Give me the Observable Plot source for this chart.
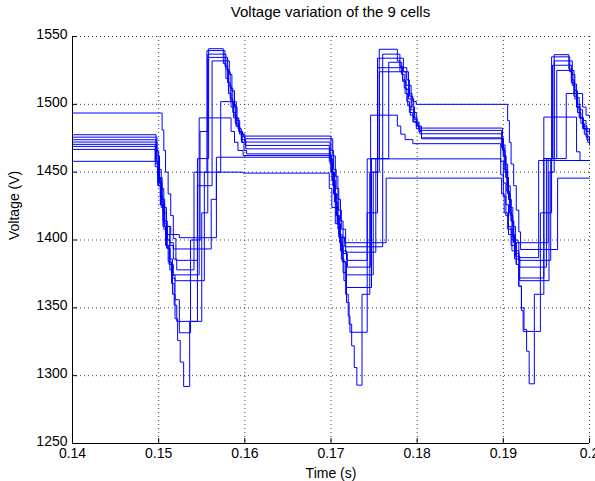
<!DOCTYPE html>
<html>
<head>
<meta charset="utf-8">
<script src="https://cdn.jsdelivr.net/npm/d3@7"></script>
<script src="https://cdn.jsdelivr.net/npm/@observablehq/plot@0.6"></script>
<style>
  html, body { margin: 0; padding: 0; background: #fff; }
  #title { height: 26px; box-sizing: border-box; padding: 4px 6px 0 72px; text-align: center;
           font: 15px "Liberation Sans", Arial, sans-serif; line-height: 16px; color: #000; }
  #chart svg { display: block; }
</style>
</head>
<body>
<div id="title">Voltage variation of the 9 cells</div>
<div id="chart"></div>
<script>
// ---- data: [time (s), voltage (V)] step points ----
const cell1 = [[0.14,1493.6],[0.1504,1481],[0.1506,1466],[0.1508,1450],[0.1511,1434],[0.1514,1418],[0.1517,1401],[0.1520,1385],
  [0.1545,1460],[0.1558,1541],[0.1575,1530],[0.1578,1519],[0.1581,1508],[0.1584,1498],[0.1587,1490],[0.1590,1484],[0.1594,1479],[0.1598,1476.6],
  [0.1700,1466],[0.1703,1452],[0.1706,1438],[0.1709,1422],[0.1712,1408],[0.1717,1391],
  [0.1752,1460],[0.1756,1540.6],[0.1777,1532],[0.1780,1524],[0.1783,1517],[0.1787,1511],[0.1791,1506],[0.1795,1502],[0.1799,1500],
  [0.1905,1488],[0.1907,1472],[0.1909,1456],[0.1912,1440],[0.1915,1422],[0.1918,1406],[0.1920,1393],
  [0.1963,1445.6],[0.2,1445.6]];
const cell2 = [[0.14,1477.6],[0.1497,1466],[0.1500,1452],[0.1503,1438],[0.1506,1424],[0.1509,1410],[0.1513,1396],[0.1517,1386],[0.1521,1378],
  [0.1541,1450],[0.1556,1539.6],[0.1577,1528],[0.1580,1516],[0.1583,1504],[0.1586,1494],[0.1589,1486],[0.1593,1480],[0.1597,1476],[0.1600,1474.6],
  [0.1702,1462],[0.1705,1447],[0.1708,1430],[0.1711,1414],[0.1714,1402],[0.1716,1395],
  [0.1760,1537],[0.1780,1528],[0.1783,1518],[0.1786,1508],[0.1789,1499],[0.1792,1492],[0.1796,1487],[0.1802,1482.5],
  [0.1899,1470],[0.1902,1456],[0.1905,1440],[0.1908,1424],[0.1911,1410],[0.1914,1398],[0.1918,1387],
  [0.1941,1458.6],[0.2,1458.6]];
const cell3 = [[0.14,1475.8],[0.1498,1462],[0.1501,1446],[0.1504,1430],[0.1507,1414],[0.1510,1400],[0.1513,1386],[0.1516,1372],[0.1519,1356],[0.1524,1340],
  [0.1550,1420],[0.1557,1537],[0.1578,1526],[0.1581,1514],[0.1584,1502],[0.1587,1492],[0.1590,1484],[0.1594,1478],[0.1600,1472.2],
  [0.1699,1460],[0.1702,1444],[0.1705,1428],[0.1708,1412],[0.1711,1396],[0.1714,1384],[0.1717,1374.3],
  [0.1749,1450],[0.1754,1534],[0.1784,1524],[0.1787,1514],[0.1790,1504],[0.1793,1496],[0.1796,1489],[0.1799,1484],[0.1803,1480.8],
  [0.1898,1468],[0.1901,1452],[0.1904,1436],[0.1907,1420],[0.1910,1404],[0.1913,1390],[0.1918,1372],
  [0.1947,1490.6],[0.1985,1465],[0.1989,1458.6],[0.2,1458.6]];
const cell4 = [[0.14,1473.9],[0.1497,1460],[0.1500,1444],[0.1503,1428],[0.1506,1412],[0.1509,1396],[0.1512,1382],[0.1515,1368],[0.1518,1352],[0.1521,1340],[0.1524,1331.6],
  [0.1537,1400],[0.1548,1480],[0.1557,1534.6],[0.1580,1524],[0.1583,1512],[0.1586,1500],[0.1589,1490],[0.1592,1482],[0.1596,1474],[0.1601,1469.7],
  [0.1698,1458],[0.1701,1444],[0.1704,1428],[0.1707,1412],[0.1710,1398],[0.1713,1384],[0.1718,1365],
  [0.1747,1460],[0.1767,1531],[0.1782,1522],[0.1785,1512],[0.1788,1502],[0.1791,1494],[0.1795,1487],[0.1799,1482],[0.1803,1478.3],
  [0.1899,1466],[0.1902,1450],[0.1905,1434],[0.1908,1418],[0.1911,1402],[0.1914,1388],[0.1919,1370],
  [0.1953,1450],[0.1959,1536.6],[0.1976,1526],[0.1979,1516],[0.1982,1506],[0.1985,1498],[0.1989,1490],[0.1993,1484],[0.1997,1480],[0.2,1480]];
const cell5 = [[0.14,1472.2],[0.1498,1458],[0.1501,1442],[0.1504,1426],[0.1507,1410],[0.1510,1394],[0.1513,1378],[0.1516,1360],[0.1519,1342],[0.1522,1326],[0.1525,1310],[0.1529,1292],
  [0.1536,1340],[0.1545,1440],[0.1562,1532],[0.1582,1522],[0.1585,1510],[0.1588,1498],[0.1591,1488],[0.1594,1480],[0.1597,1472],[0.1601,1467.2],
  [0.1699,1456],[0.1702,1440],[0.1705,1424],[0.1708,1408],[0.1711,1392],[0.1714,1376],[0.1717,1360],[0.1720,1344],[0.1722,1332],
  [0.1742,1420],[0.1754,1527],[0.1788,1518],[0.1791,1508],[0.1794,1498],[0.1797,1490],[0.1800,1484],[0.1805,1475.3],
  [0.1900,1462],[0.1903,1446],[0.1906,1430],[0.1909,1414],[0.1912,1398],[0.1915,1382],[0.1918,1366],[0.1921,1348],[0.1923,1332.6],
  [0.1943,1420],[0.1956,1535],[0.1977,1524],[0.1980,1514],[0.1983,1504],[0.1986,1494],[0.1990,1486],[0.1994,1478],[0.1998,1472],[0.2,1472]];
const cell6 = [[0.14,1470.5],[0.1496,1458],[0.1499,1442],[0.1502,1426],[0.1505,1410],[0.1508,1396],[0.1511,1384],[0.1515,1374],[0.1519,1370],
  [0.1553,1450],[0.1572,1502],[0.1590,1490],[0.1593,1480],[0.1596,1472],[0.1599,1466],[0.1602,1463.5],
  [0.1700,1450],[0.1703,1434],[0.1706,1418],[0.1709,1402],[0.1712,1386],[0.1715,1370],[0.1718,1354],[0.1721,1338],[0.1724,1322],[0.1727,1306],[0.1730,1293],
  [0.1736,1360],[0.1745,1450],[0.1756,1524],[0.1790,1514],[0.1793,1504],[0.1796,1494],[0.1799,1486],[0.1802,1480],[0.1805,1474.6],
  [0.1900,1462],[0.1903,1446],[0.1906,1430],[0.1909,1414],[0.1912,1398],[0.1915,1382],[0.1918,1366],[0.1921,1350],[0.1924,1334],[0.1927,1318],[0.1930,1294],
  [0.1936,1360],[0.1947,1460],[0.1959,1532],[0.1980,1522],[0.1983,1510],[0.1986,1500],[0.1989,1490],[0.1993,1482],[0.1997,1474],[0.2,1470]];
const cell7 = [[0.14,1469],[0.1497,1456],[0.1500,1440],[0.1503,1424],[0.1506,1408],[0.1509,1394],[0.1513,1382],[0.1517,1374.3],
  [0.1547,1490],[0.1584,1480],[0.1588,1472],[0.1592,1466],[0.1598,1462.3],
  [0.1701,1450],[0.1704,1434],[0.1707,1418],[0.1710,1402],[0.1714,1390],[0.1719,1380],
  [0.1746,1492],[0.1777,1484],[0.1781,1478],[0.1786,1474],[0.1795,1471],
  [0.1897,1458],[0.1900,1442],[0.1903,1426],[0.1906,1410],[0.1909,1396],[0.1913,1386],[0.1919,1380],
  [0.1950,1460],[0.1957,1528.8],[0.1979,1518],[0.1982,1508],[0.1985,1498],[0.1988,1490],[0.1992,1482],[0.1996,1476],[0.2,1472]];
const cell8 = [[0.14,1466.8],[0.1496,1454],[0.1499,1440],[0.1502,1426],[0.1505,1414],[0.1509,1404],[0.1513,1398],[0.1517,1393.4],
  [0.1561,1430],[0.1567,1461],
  [0.1700,1450],[0.1703,1434],[0.1706,1418],[0.1709,1404],[0.1713,1392],[0.1718,1385],
  [0.1742,1459.8],
  [0.1897,1448],[0.1900,1432],[0.1903,1418],[0.1906,1404],[0.1910,1392],[0.1918,1385],
  [0.1955,1460],[0.1973,1508],[0.1992,1498],[0.1996,1492],[0.2,1490]];
const cell9 = [[0.14,1458],[0.1499,1446],[0.1502,1432],[0.1505,1420],[0.1509,1410],[0.1514,1404],[0.1524,1401.7],
  [0.1567,1450],[0.1598,1449.3],
  [0.1698,1438],[0.1701,1424],[0.1705,1412],[0.1710,1402],[0.1716,1398],
  [0.1764,1445.6],
  [0.1898,1434],[0.1901,1420],[0.1905,1408],[0.1910,1400],[0.1917,1398],
  [0.1952,1460],[0.1962,1525],[0.1982,1515],[0.1985,1505],[0.1988,1496],[0.1992,1488],[0.1996,1482],[0.2,1478]];

const cells = [cell1, cell2, cell3, cell4, cell5, cell6, cell7, cell8, cell9];
const xTicks = [0.14, 0.15, 0.16, 0.17, 0.18, 0.19, 0.2];
const xTickLabels = ["0.14", "0.15", "0.16", "0.17", "0.18", "0.19", "0.2"];
const yTicks = [1250, 1300, 1350, 1400, 1450, 1500, 1550];
const yTickLabels = ["1250", "1300", "1350", "1400", "1450", "1500", "1550"];
const xLabel = "Time (s)";
const yLabel = "Voltage (V)";

// ---- layout ----
const W = 595, H = 455;
const mL = 72, mR = 6, mT = 10, mB = 38;
const plotW = W - mL - mR, plotH = H - mT - mB;

const rows = cells.flatMap((pts, i) => pts.map(([t, v]) => ({cell: "Cell " + (i + 1), t, v})));

const chart = Plot.plot({
  width: W, height: H,
  marginLeft: mL, marginRight: mR, marginTop: mT, marginBottom: mB,
  style: {fontFamily: '"Liberation Sans", Arial, sans-serif', fontSize: "14px", color: "#000", background: "#fff", overflow: "visible"},
  x: {domain: [0.14, 0.2]},
  y: {domain: [1250, 1550]},
  marks: [
    Plot.gridX(xTicks, {stroke: "#000", strokeOpacity: 0.75, strokeDasharray: "1,3"}),
    Plot.gridY(yTicks, {stroke: "#000", strokeOpacity: 0.75, strokeDasharray: "1,3"}),
    Plot.line(rows, {x: "t", y: "v", z: "cell", curve: "step-after", stroke: "#0000ff", strokeWidth: 1}),
    Plot.ruleY([1250], {stroke: "#000"}),
    Plot.ruleX([0.14], {stroke: "#000"}),
    Plot.tickX(xTicks, {x: d => d, stroke: "#000", insetTop: plotH - 5}),
    Plot.tickY(yTicks, {y: d => d, stroke: "#000", insetRight: plotW - 5}),
    Plot.axisX(xTicks, {tickSize: 0, tickPadding: 5, fontSize: 14, tickFormat: (d, i) => xTickLabels[i], label: null, fill: "#000"}),
    Plot.axisY(yTicks, {tickSize: 0, tickPadding: 5, dy: -2, fontSize: 14, tickFormat: (d, i) => yTickLabels[i], label: null, fill: "#000"}),
    Plot.text([xLabel], {frameAnchor: "bottom", dy: 30, lineAnchor: "middle", fontSize: 14, fill: "#000"}),
    Plot.text([yLabel], {frameAnchor: "left", rotate: -90, dx: -58, fontSize: 14, fill: "#000"})
  ]
});
document.getElementById("chart").appendChild(chart);
</script>
</body>
</html>
